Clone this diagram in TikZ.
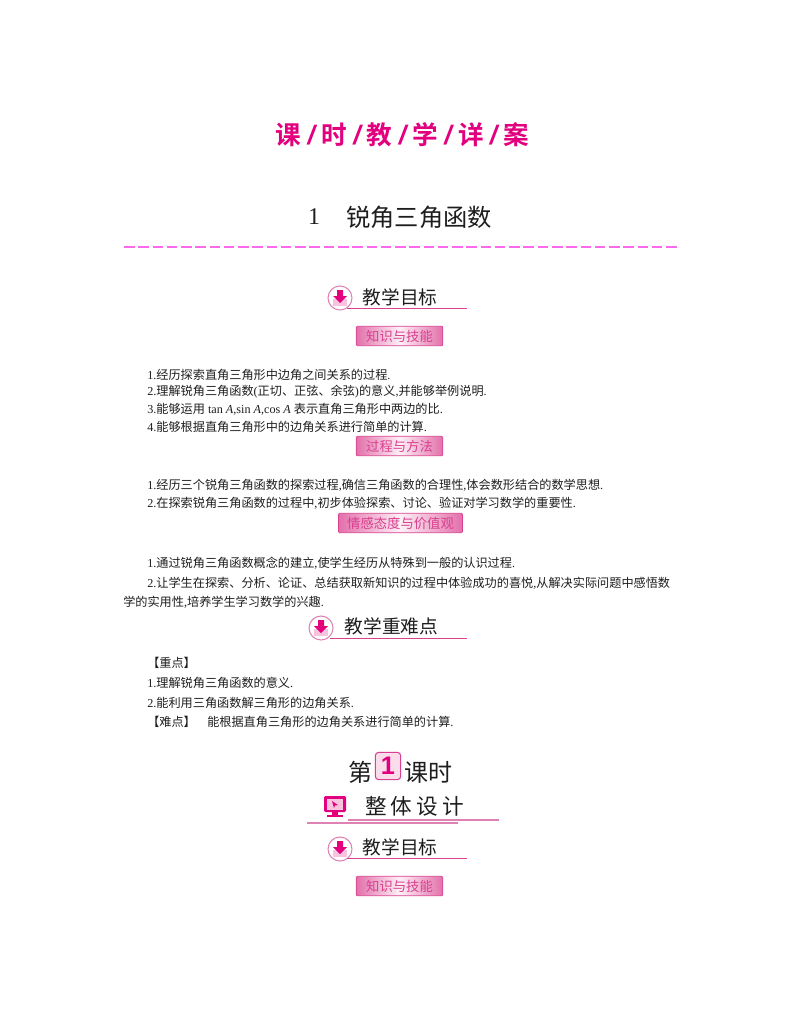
\documentclass[tikz,border=0pt]{standalone}
\usepackage{fontspec}
\usepackage{xcolor}
\setmainfont{Liberation Serif}
\newfontfamily\cjk{Noto Sans CJK SC}
\newfontfamily\cjkb{Noto Sans CJK SC Bold}
\newfontfamily\heros{Liberation Sans}
\newcommand\zh[1]{{\cjk #1}}
\newcommand\px[1]{\fontsize{#1}{#1}\selectfont}
\newcommand\slashmark{\hspace{4.7pt}{\heros\bfseries\itshape\px{20}/}\hspace{4.7pt}}
\definecolor{rosered}{HTML}{E2007F}
\definecolor{rosemid}{HTML}{D9408F}
\definecolor{roseline}{HTML}{DE82B5}
\definecolor{roselight}{HTML}{F8C4DD}
\definecolor{dashpink}{HTML}{FB6AEA}
\definecolor{inktext}{HTML}{1E1E1E}
\tikzset{
  bodyline/.style={anchor=west,inner sep=0pt,text=inktext,font=\px{9.12}},
  heading/.style={inner sep=0pt,text=inktext,font=\cjk\px{14}},
  badge/.style={draw=rosemid,line width=.6pt,rounded corners=.8pt,left color=rosemid!75,right color=rosemid!75,middle color=roselight!25,
    text=rosemid,font=\cjk\px{10},inner sep=0pt,minimum height=14.5pt},
  rosebar/.style={draw=rosemid,line width=.7pt},
  paleline/.style={draw=roseline,line width=.9pt},
  goalicon/.pic={
    \fill[white] (0,0) circle (12);
    \fill[roselight] (-7,1) rectangle (7,8);
    \draw[draw=roseline,line width=.8pt] (0,0) circle (12);
    \fill[rosered] (-3,-8) -- (3,-8) -- (3,-2) -- (7,-2) -- (0,5) -- (-7,-2) -- (-3,-2) -- cycle;
  },
  screenicon/.pic={
    \fill[rosered,rounded corners=1pt] (-11,-9) rectangle (11,7);
    \fill[roselight] (-8,-6.5) rectangle (8,4.5);
    \fill[rosered] (-3,-4) -- (3,0) -- (0,.5) -- (-1,3) -- cycle;
    \fill[rosered] (-3,7) rectangle (3,10);
    \fill[rosered] (-8,10) rectangle (8,12);
  }
}
\begin{document}
\begin{tikzpicture}[x=.75pt,y=-.75pt]
  \useasboundingbox[fill=white] (0,0) rectangle (800,1028);
  % title
  \node[inner sep=0pt,text=rosered,font=\cjkb\px{19.2}] (title) at (402.5,135)
    {课\slashmark 时\slashmark 教\slashmark 学\slashmark 详\slashmark 案};
  \node[inner sep=0pt,text=inktext,font=\px{18}] (chapnum) at (314,217) {1};
  \node[anchor=west,inner sep=0pt,text=inktext,font=\cjk\px{18.2}] (chaptitle) at (346,217) {锐角三角函数};
  \draw[dashpink,line width=1.3pt,dash pattern=on 7.9pt off 2.8pt] (124,247) -- (677,247);

  % first goals
  \pic at (340,298) {goalicon};
  \node[heading] (goalA) at (400,297) {教学目标};
  \draw[rosebar] (347,308.5) -- (467,308.5);
  \node[badge,minimum width=65pt] (skillA) at (399.5,336) {知识与技能};
  \node[bodyline] (a1) at (147,375) {1.\zh{经历探索直角三角形中边角之间关系的过程}.};
  \node[bodyline] (a2) at (147,392) {2.\zh{理解锐角三角函数}(\zh{正切、正弦、余弦})\zh{的意义},\zh{并能够举例说明}.};
  \node[bodyline] (a3) at (147,409) {3.\zh{能够运用} tan \textit{A},sin \textit{A},cos \textit{A} \zh{表示直角三角形中两边的比}.};
  \node[bodyline] (a4) at (147,427) {4.\zh{能够根据直角三角形中的边角关系进行简单的计算}.};
  \node[badge,minimum width=65pt] (methodA) at (399.5,446) {过程与方法};
  \node[bodyline] (b1) at (147,485) {1.\zh{经历三个锐角三角函数的探索过程},\zh{确信三角函数的合理性},\zh{体会数形结合的数学思想}.};
  \node[bodyline] (b2) at (147,503) {2.\zh{在探索锐角三角函数的过程中},\zh{初步体验探索、讨论、验证对学习数学的重要性}.};
  \node[badge,minimum width=93pt] (valueA) at (400.5,523) {情感态度与价值观};
  \node[bodyline] (c1) at (147,563) {1.\zh{通过锐角三角函数概念的建立},\zh{使学生经历从特殊到一般的认识过程}.};
  \node[bodyline] (c2) at (147,583) {2.\zh{让学生在探索、分析、论证、总结获取新知识的过程中体验成功的喜悦},\zh{从解决实际问题中感悟数}};
  \node[bodyline] (c3) at (123,602) {\zh{学的实用性},\zh{培养学生学习数学的兴趣}.};

  % key points
  \pic at (321,628) {goalicon};
  \node[heading] (keyhead) at (391.5,626) {教学重难点};
  \draw[rosebar] (330,638.5) -- (467,638.5);
  \node[bodyline] (d0) at (147,663) {\zh{【重点】}};
  \node[bodyline] (d1) at (147,683) {1.\zh{理解锐角三角函数的意义}.};
  \node[bodyline] (d2) at (147,703) {2.\zh{能利用三角函数解三角形的边角关系}.};
  \node[bodyline] (d3) at (147,722) {\zh{【难点】}};
  \node[bodyline] (d4) at (207,722) {\zh{能根据直角三角形的边角关系进行简单的计算}.};

  % lesson head
  \node[anchor=west,inner sep=0pt,text=inktext,font=\cjk\px{18}] (lessonA) at (348,772) {第};
  \node[draw=rosemid,line width=.8pt,fill=roselight!60,rounded corners=2.5pt,minimum width=19pt,minimum height=20.5pt,
    inner sep=0pt,text=rosered,font=\heros\bfseries\px{19}] (lessonnum) at (388,766) {1};
  \node[anchor=west,inner sep=0pt,text=inktext,font=\cjk\px{18}] (lessonB) at (404,772) {课时};
  \pic at (335,805) {screenicon};
  \node[inner sep=0pt,text=inktext,font=\cjk\px{16.2}] (design) at (414.5,806) {整\hspace{3pt}体\hspace{3pt}设\hspace{3pt}计};
  \draw[paleline] (348,820) -- (499,820);
  \draw[paleline] (307,823) -- (458,823);

  % second goals
  \pic at (340,849) {goalicon};
  \node[heading] (goalB) at (400,847) {教学目标};
  \draw[rosebar] (347,858.5) -- (467,858.5);
  \node[badge,minimum width=65pt] (skillB) at (399.5,886) {知识与技能};
\end{tikzpicture}
\end{document}
